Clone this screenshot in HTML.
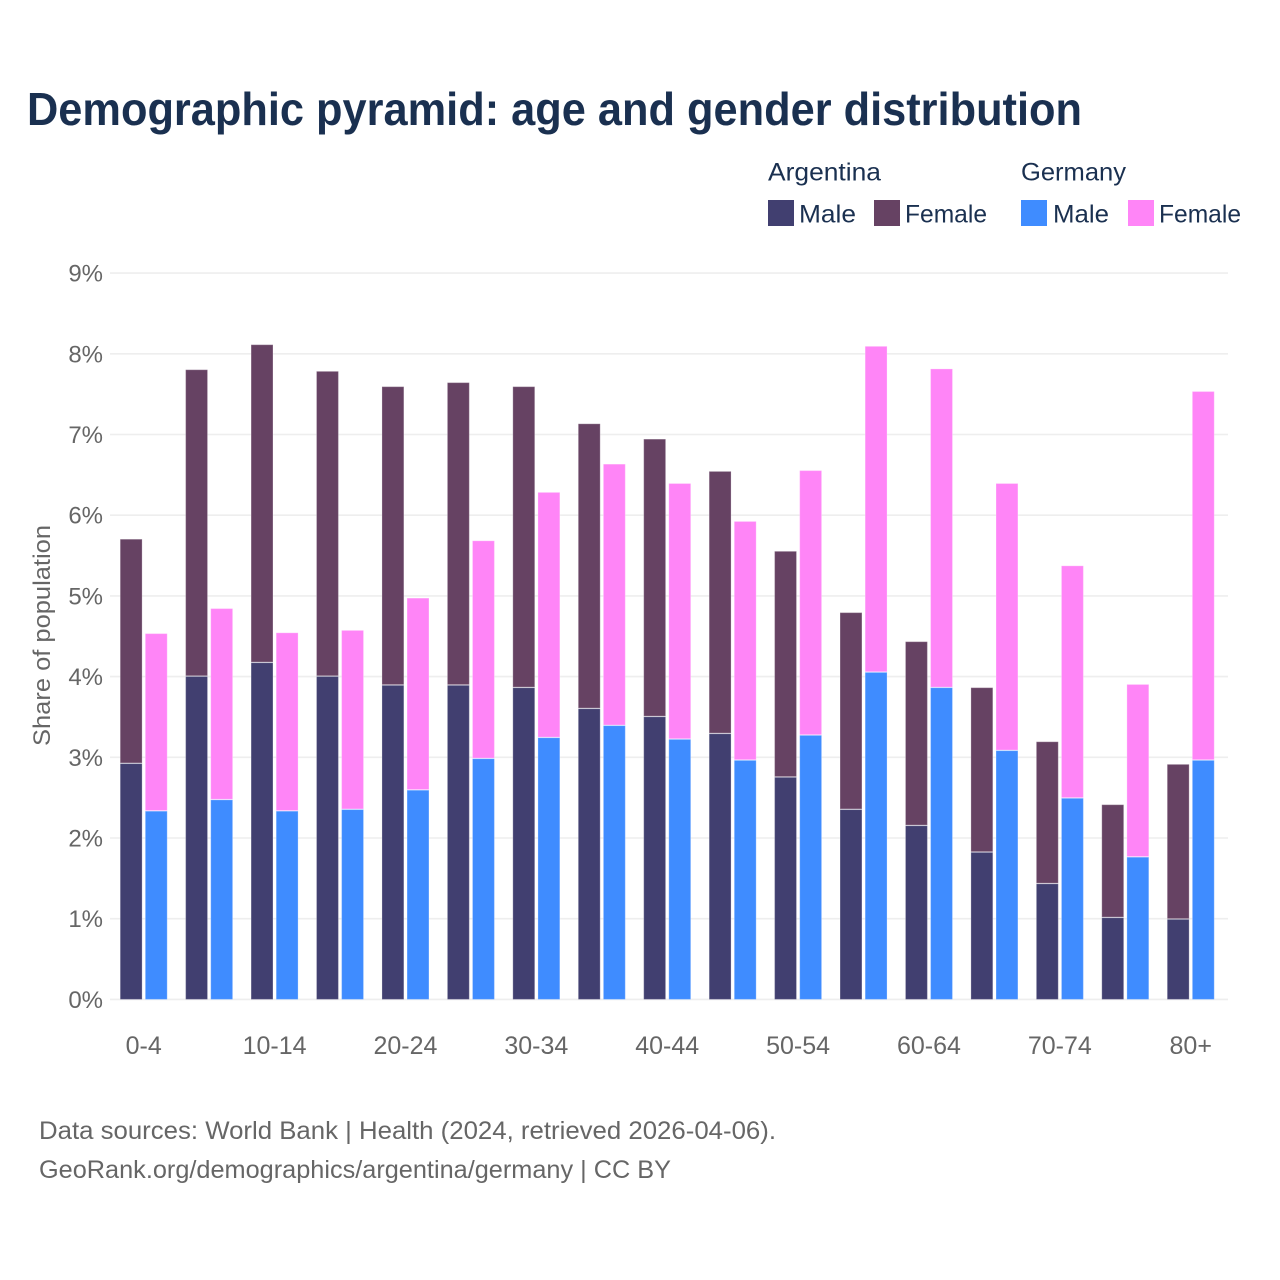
<!DOCTYPE html>
<html lang="en">
<head>
<meta charset="utf-8">
<title>Demographic pyramid</title>
<style>
html,body{margin:0;padding:0;background:#fff;width:1280px;height:1280px;overflow:hidden}
svg{display:block}
text{font-family:"Liberation Sans",sans-serif}
</style>
</head>
<body>
<svg id="chart" xmlns="http://www.w3.org/2000/svg" width="1280" height="1280" viewBox="0 0 1280 1280">
  <rect width="1280" height="1280" fill="#ffffff"/>
  <text x="27" y="125" font-size="46" font-weight="700" fill="#1a3050" textLength="1055" lengthAdjust="spacingAndGlyphs">Demographic pyramid: age and gender distribution</text>

  <g font-size="25" fill="#1a3050">
    <text x="768" y="180.5" textLength="113" lengthAdjust="spacingAndGlyphs">Argentina</text>
    <text x="1021" y="180.5" textLength="105" lengthAdjust="spacingAndGlyphs">Germany</text>
    <rect x="768" y="200" width="26" height="26" fill="#413f70"/>
    <text x="799" y="222.5" textLength="57" lengthAdjust="spacingAndGlyphs">Male</text>
    <rect x="874" y="200" width="26" height="26" fill="#664263"/>
    <text x="905" y="222.5" textLength="82" lengthAdjust="spacingAndGlyphs">Female</text>
    <rect x="1021" y="200" width="26" height="26" fill="#3f8cff"/>
    <text x="1053" y="222.5" textLength="56" lengthAdjust="spacingAndGlyphs">Male</text>
    <rect x="1128" y="200" width="26" height="26" fill="#ff85f7"/>
    <text x="1159" y="222.5" textLength="82" lengthAdjust="spacingAndGlyphs">Female</text>
  </g>

  <text transform="translate(50,746) rotate(-90)" font-size="24" fill="#666666" textLength="221" lengthAdjust="spacingAndGlyphs">Share of population</text>

  <g id="grid"></g>
  <g id="yticks" font-size="24" fill="#666666" text-anchor="end"></g>
  <g id="bars"></g>
  <g id="xticks" font-size="25" fill="#666666" text-anchor="middle"></g>

  <text x="39" y="1139" font-size="25" fill="#666666" textLength="737" lengthAdjust="spacingAndGlyphs">Data sources: World Bank | Health (2024, retrieved 2026-04-06).</text>
  <text x="39" y="1178" font-size="25" fill="#666666" textLength="632" lengthAdjust="spacingAndGlyphs">GeoRank.org/demographics/argentina/germany | CC BY</text>
</svg>
<script>
const categories = ["0-4","5-9","10-14","15-19","20-24","25-29","30-34","35-39","40-44","45-49","50-54","55-59","60-64","65-69","70-74","75-79","80+"];
const argentinaMale = [2.93,4.01,4.18,4.01,3.90,3.90,3.87,3.61,3.51,3.30,2.76,2.36,2.16,1.83,1.44,1.02,1.00];
const argentinaFemale = [2.78,3.80,3.94,3.78,3.70,3.75,3.73,3.53,3.44,3.25,2.80,2.44,2.28,2.04,1.76,1.40,1.92];
const germanyMale = [2.34,2.48,2.34,2.36,2.60,2.99,3.25,3.40,3.23,2.97,3.28,4.06,3.87,3.09,2.50,1.77,2.97];
const germanyFemale = [2.20,2.37,2.21,2.22,2.38,2.70,3.04,3.24,3.17,2.96,3.28,4.04,3.95,3.31,2.88,2.14,4.57];
const yTickValues = [0,1,2,3,4,5,6,7,8,9];

const SVG_NS = "http://www.w3.org/2000/svg";
function yScale(v){ return 999.4 - v * 80.7; }
function groupX(i){ return 119.7 + i * 65.44; }
const BAR_W = 22.9;
const BAR_GAP = 2.2;
const BAR_Y_NUDGE = 0.6;

function make(tag, attrs){
  const el = document.createElementNS(SVG_NS, tag);
  for (const k in attrs) el.setAttribute(k, attrs[k]);
  return el;
}

const gridG = document.getElementById("grid");
const yG = document.getElementById("yticks");
yTickValues.forEach(function(t){
  const line = make("line", {x1:110, x2:1228, y1:yScale(t), y2:yScale(t), stroke:"#eeeeee", "stroke-width":1.6});
  
  
  gridG.appendChild(line);
  const label = make("text", {x:103, y:yScale(t) + 8.5});
  
  
  label.textContent = t + "%";
  yG.appendChild(label);
});

const barsG = document.getElementById("bars");
function addBar(x, v0, v1, fill, name){
  const top = yScale(v1) + BAR_Y_NUDGE, bottom = yScale(v0);
  const r = make("rect", {x:x + 0.5, y:top, width:BAR_W - 1, height:Math.max(0, bottom - top), fill:fill, stroke:"#ffffff", "stroke-opacity":0.25, "stroke-width":1});
  
  
  barsG.appendChild(r);
}
categories.forEach(function(c, i){
  const x0 = groupX(i);
  const x1 = x0 + BAR_W + BAR_GAP;
  addBar(x0, 0, argentinaMale[i], "#413f70", "bar-argentina-male");
  addBar(x0, argentinaMale[i], argentinaMale[i] + argentinaFemale[i], "#664263", "bar-argentina-female");
  addBar(x1, 0, germanyMale[i], "#3f8cff", "bar-germany-male");
  addBar(x1, germanyMale[i], germanyMale[i] + germanyFemale[i], "#ff85f7", "bar-germany-female");
});

const xG = document.getElementById("xticks");
categories.forEach(function(c, i){
  if (i % 2 !== 0) return;
  const label = make("text", {x:groupX(i) + BAR_W + BAR_GAP / 2, y:1054});
  
  
  label.textContent = c;
  xG.appendChild(label);
});
</script>
</body>
</html>
